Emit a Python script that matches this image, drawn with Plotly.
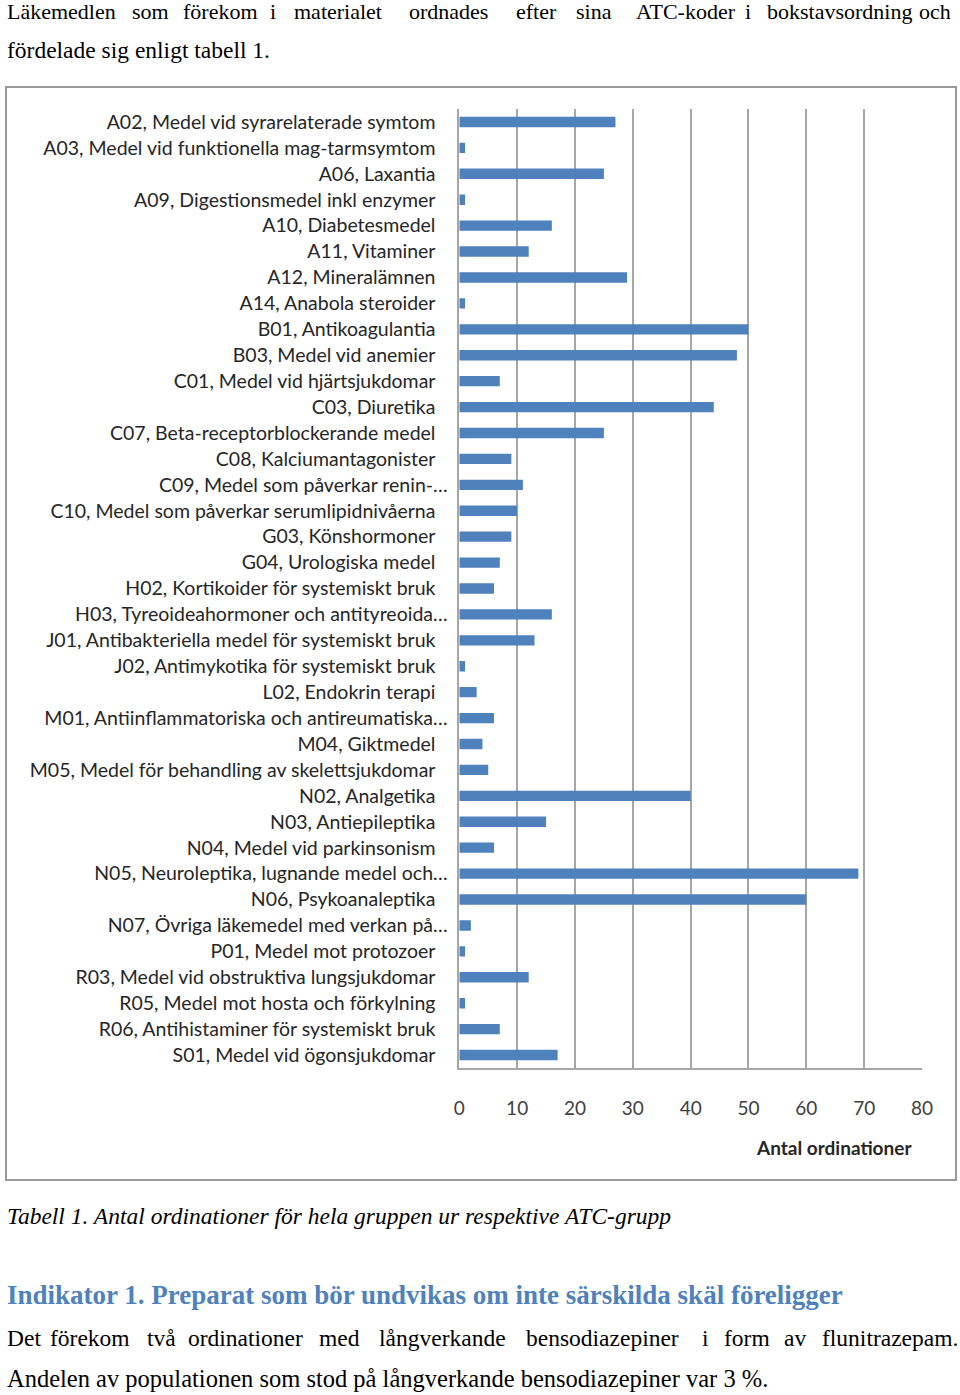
import plotly.graph_objects as go

W, H = 960, 1395

categories = [
    "A02, Medel vid syrarelaterade symtom",
    "A03, Medel vid funktionella mag-tarmsymtom",
    "A06, Laxantia",
    "A09, Digestionsmedel inkl enzymer",
    "A10, Diabetesmedel",
    "A11, Vitaminer",
    "A12, Mineralämnen",
    "A14, Anabola steroider",
    "B01, Antikoagulantia",
    "B03, Medel vid anemier",
    "C01, Medel vid hjärtsjukdomar",
    "C03, Diuretika",
    "C07, Beta-receptorblockerande medel",
    "C08, Kalciumantagonister",
    "C09, Medel som påverkar renin-…",
    "C10, Medel som påverkar serumlipidnivåerna",
    "G03, Könshormoner",
    "G04, Urologiska medel",
    "H02, Kortikoider för systemiskt bruk",
    "H03, Tyreoideahormoner och antityreoida…",
    "J01, Antibakteriella medel för systemiskt bruk",
    "J02, Antimykotika för systemiskt bruk",
    "L02, Endokrin terapi",
    "M01, Antiinflammatoriska och antireumatiska…",
    "M04, Giktmedel",
    "M05, Medel för behandling av skelettsjukdomar",
    "N02, Analgetika",
    "N03, Antiepileptika",
    "N04, Medel vid parkinsonism",
    "N05, Neuroleptika, lugnande medel och…",
    "N06, Psykoanaleptika",
    "N07, Övriga läkemedel med verkan på…",
    "P01, Medel mot protozoer",
    "R03, Medel vid obstruktiva lungsjukdomar",
    "R05, Medel mot hosta och förkylning",
    "R06, Antihistaminer för systemiskt bruk",
    "S01, Medel vid ögonsjukdomar",
]
values = [27, 1, 25, 1, 16, 12, 29, 1, 50, 48, 7, 44, 25, 9, 11, 10, 9, 7, 6, 16,
          13, 1, 3, 6, 4, 5, 40, 15, 6, 69, 60, 2, 1, 12, 1, 7, 17]
x_ticks = [0, 10, 20, 30, 40, 50, 60, 70, 80]
axis_title = "Antal ordinationer"

line1_words = ["Läkemedlen", "som", "förekom", "i", "materialet", "ordnades", "efter",
               "sina", "ATC-koder", "i", "bokstavsordning", "och"]
line1_x = [5, 130, 181, 268, 292, 407, 514, 574, 634, 743, 765, 917]
line2_text = "fördelade sig enligt tabell 1."
caption = "Tabell 1. Antal ordinationer för hela gruppen ur respektive ATC-grupp"
heading = "Indikator 1. Preparat som bör undvikas om inte särskilda skäl föreligger"
para1_words = ["Det", "förekom", "två", "ordinationer", "med", "långverkande",
               "bensodiazepiner", "i", "form", "av", "flunitrazepam."]
para1_x = [5, 48, 145, 186, 317, 377, 524, 700, 722, 782, 820]
para2_text = "Andelen av populationen som stod på långverkande bensodiazepiner var 3 %."


def px(x):
    return x / W


def py(y):
    return 1 - y / H


# pad labels without ellipsis so that their text ends where Excel put it
labels = [c if c.endswith("…") else c + "\u2002\u2009" for c in categories]

fig = go.Figure(go.Bar(
    x=values, y=labels, orientation="h",
    marker=dict(color="#4f81bd", line=dict(width=0)),
    width=0.4,
))

SERIF = "Liberation Serif"
LAB = "Lato"

fig.update_layout(
    width=W, height=H, autosize=False,
    margin=dict(l=0, r=0, t=0, b=0, pad=0, autoexpand=False),
    paper_bgcolor="white", plot_bgcolor="white",
    showlegend=False,
    xaxis=dict(
        domain=[px(459.3), px(922)], automargin=False,
        range=[0, 80], tickvals=x_ticks, ticktext=[str(t) for t in x_ticks],
        showgrid=True, gridcolor="#a6a6a6", gridwidth=1.5,
        showline=True, linecolor="#a6a6a6", linewidth=1.5,
        zeroline=False, ticks="", ticklabelstandoff=22,
        tickfont=dict(family=LAB, size=19, color="#404040"),
        fixedrange=True,
    ),
    yaxis=dict(
        domain=[py(1068), py(109)], automargin=False,
        autorange=False, range=[len(categories) - 0.5, -0.5],
        type="category",
        showgrid=False, showline=True, linecolor="#a6a6a6", linewidth=1.5,
        ticks="", ticklabelstandoff=6,
        tickfont=dict(family=LAB, size=19.5, color="#262626"),
        fixedrange=True,
    ),
)

shapes = [dict(type="rect", xref="paper", yref="paper",
               x0=px(6), x1=px(956), y0=py(87), y1=py(1180),
               line=dict(color="#999999", width=2), fillcolor="rgba(0,0,0,0)")]
fig.update_layout(shapes=shapes)

ann = []


def add(text, x, y, size, family=SERIF, color="#000000", anchor="left", **kw):
    ann.append(dict(text=text, x=px(x), y=py(y), xref="paper", yref="paper",
                    xanchor=anchor, yanchor="middle", showarrow=False,
                    font=dict(family=family, size=size, color=color), **kw))


for w, x in zip(line1_words, line1_x):
    add(w, x, 12, 22)
add(line2_text, 5, 50, 23.5)
add("<b>" + axis_title + "</b>", 914, 1147, 19, family=LAB, color="#262626", anchor="right")
add("<i>" + caption + "</i>", 5, 1216, 23.5)
add("<b>" + heading + "</b>", 5, 1295, 27, color="#4f81bd")
for w, x in zip(para1_words, para1_x):
    add(w, x, 1338, 23.5)
add(para2_text, 5, 1378, 24.5)

fig.update_layout(annotations=ann)

post = (
    "document.body.style.margin='0';"
    "document.body.style.overflow='hidden';"
    "document.documentElement.style.overflow='hidden';"
)

fig.write_html(
    "out.html",
    config={"responsive": False, "displayModeBar": False},
    post_script=post,
)
